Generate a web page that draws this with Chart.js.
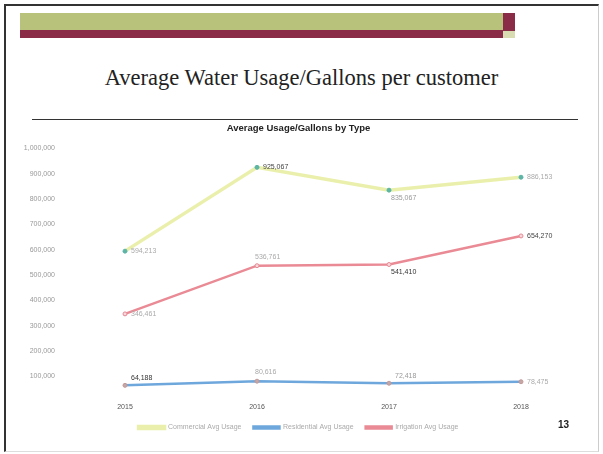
<!DOCTYPE html>
<html>
<head>
<meta charset="utf-8">
<script src="https://cdn.jsdelivr.net/npm/chart.js@4.4.0/dist/chart.umd.min.js"></script>
<style>
  html, body { margin: 0; padding: 0; background: #fff; }
  #slide { position: relative; width: 603px; height: 454px; overflow: hidden; background: #fff; }
  #frame { position: absolute; left: 4px; top: 4px; width: 592px; height: 445px;
           border-left: 2px solid #333; border-top: 2px solid #333;
           border-right: 1px solid #ccc; border-bottom: 1px solid #ddd; }
  #bannerG { position: absolute; left: 20px; top: 13px; width: 483px; height: 17px; background: #b9c27a; }
  #bannerR { position: absolute; left: 20px; top: 30px; width: 483px; height: 8px; background: #8a2c48; }
  #capR { position: absolute; left: 503px; top: 13px; width: 12px; height: 18px; background: #8a2c48; }
  #capL { position: absolute; left: 503px; top: 31px; width: 12px; height: 7px; background: #d8dcb0; }
  #title { position: absolute; left: 0; width: 603px; top: 65px; text-align: center;
           font-family: "Liberation Serif", "DejaVu Serif", serif; font-size: 22.5px; color: #222; }
  #rule { position: absolute; left: 32px; top: 119px; width: 546px; height: 1px; background: #333; }
  #num { position: absolute; left: 558px; top: 419px; font-family: "Liberation Sans", Arial, sans-serif;
         font-weight: bold; font-size: 10px; color: #222; }
  #wrap { position: absolute; left: 10px; top: 115px; width: 585px; height: 330px; }
</style>
</head>
<body>
<div id="slide">
  <div id="frame"></div>
  <div id="bannerG"></div>
  <div id="bannerR"></div>
  <div id="capR"></div>
  <div id="capL"></div>
  <div id="title">Average Water Usage/Gallons per customer</div>
  <div id="rule"></div>
  <div id="wrap"><canvas id="c" width="585" height="330"></canvas></div>
  <div id="num">13</div>
</div>
<script>
const years = ["2015", "2016", "2017", "2018"];
const commercialAvg = [594213, 925067, 835067, 886153];
const residentialAvg = [64188, 80616, 72418, 78475];
const irrigationAvg = [346461, 536761, 541410, 654270];
const seriesNames = ["Commercial Avg Usage", "Residential Avg Usage", "Irrigation Avg Usage"];
const yTicks = [100000, 200000, 300000, 400000, 500000, 600000, 700000, 800000, 900000, 1000000];

const fmt = v => v.toLocaleString("en-US");

const labelPlugin = {
  id: "pointLabels",
  afterDatasetsDraw(chart, args, opts) {
    const ctx = chart.ctx;
    ctx.save();
    ctx.font = "7px 'Liberation Sans', Arial, sans-serif";
    ctx.textBaseline = "middle";
    chart.data.datasets.forEach((ds, di) => {
      const meta = chart.getDatasetMeta(di);
      const pos = opts.positions[di];
      meta.data.forEach((pt, i) => {
        const p = pos[i];
        let x = pt.x + 6, y = pt.y;
        if (p === "above") { y -= 9; x = pt.x - 2; }
        if (p === "below") { y += 8; x = pt.x + 2; }
        if (p === "aboveRight") { y -= 7; x = pt.x + 6; }
        ctx.fillStyle = opts.colors[di][i];
        ctx.fillText(fmt(ds.data[i]), x, y);
      });
    });
    ctx.restore();
  }
};

new Chart(document.getElementById("c"), {
  type: "line",
  data: {
    labels: years,
    datasets: [
      { label: seriesNames[0], data: commercialAvg, borderColor: "#eaf0ab", backgroundColor: "#eaf0ab",
        borderWidth: 3.5, pointRadius: 2, pointBorderWidth: 1, pointBackgroundColor: "#5cb5a6", pointBorderColor: "#5cb5a6",
        tension: 0 },
      { label: seriesNames[1], data: residentialAvg, borderColor: "#6ea7dc", backgroundColor: "#6ea7dc",
        borderWidth: 2.5, pointRadius: 2, pointBorderWidth: 1, pointBackgroundColor: "#c8a6a4", pointBorderColor: "#c09a98",
        tension: 0 },
      { label: seriesNames[2], data: irrigationAvg, borderColor: "#ea8a95", backgroundColor: "#ea8a95",
        borderWidth: 2.5, pointRadius: 2, pointBorderWidth: 1, pointBackgroundColor: "#f6d6da", pointBorderColor: "#e48a94",
        tension: 0 }
    ]
  },
  options: {
    responsive: false,
    animation: false,
    layout: { padding: { left: 0, right: 8, top: 0, bottom: 4 } },
    plugins: {
      title: { display: true, text: "Average Usage/Gallons by Type", color: "#222",
               font: { family: "'Liberation Sans', Arial, sans-serif", size: 9.5, weight: "bold" },
               padding: { top: 8, bottom: 14 } },
      legend: { position: "bottom",
                labels: { boxWidth: 26, boxHeight: 2, color: "#aaa", padding: 12,
                          font: { family: "'Liberation Sans', Arial, sans-serif", size: 7 } } },
      tooltip: { enabled: false },
      pointLabels: {
        positions: [
          ["right", "right", "below", "right"],
          ["aboveRight", "above", "aboveRight", "right"],
          ["right", "above", "below", "right"]
        ],
        colors: [
          ["#aaa", "#444", "#999", "#aaa"],
          ["#333", "#aaa", "#999", "#aaa"],
          ["#aaa", "#aaa", "#333", "#444"]
        ]
      }
    },
    scales: {
      x: { offset: true, grid: { display: false, drawTicks: false }, border: { display: false },
           ticks: { color: "#555", padding: 1, font: { family: "'Liberation Sans', Arial, sans-serif", size: 7 } } },
      y: { min: 0, max: 1000000, grid: { display: false, drawTicks: false }, border: { display: false },
           afterBuildTicks: s => { s.ticks = yTicks.map(v => ({ value: v })); },
           afterFit: s => { s.width = 49; },
           ticks: { color: "#999", padding: 4, callback: v => fmt(v),
                    font: { family: "'Liberation Sans', Arial, sans-serif", size: 7 } } }
    }
  },
  plugins: [labelPlugin]
});
</script>
</body>
</html>
